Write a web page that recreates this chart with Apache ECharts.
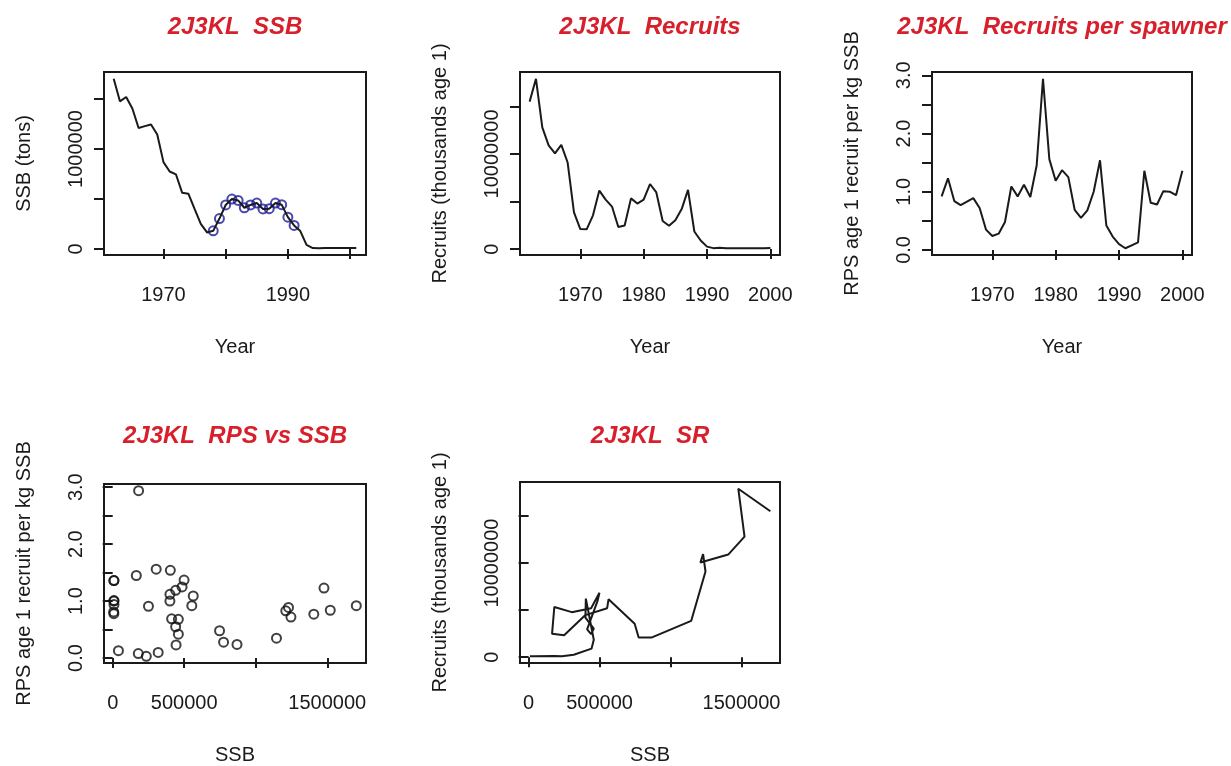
<!DOCTYPE html>
<html><head><meta charset="utf-8">
<script src="https://cdn.jsdelivr.net/npm/echarts@6/dist/echarts.min.js"></script>
<style>html,body{margin:0;padding:0;background:#fff}#c{width:1231px;height:766px}</style>
</head><body><div id="c"></div>
<script>
// ---- data ----
const ssbYears = [1962,1963,1964,1965,1966,1967,1968,1969,1970,1971,1972,1973,1974,1975,1976,1977,1978,1979,1980,1981,1982,1983,1984,1985,1986,1987,1988,1989,1990,1991,1992,1993,1994,1995,1996,1997,1998,1999,2000,2001];
const ssb = [1703000,1477000,1521000,1406000,1210000,1229000,1246000,1145000,869000,775000,747000,563000,553000,400000,250000,165000,181000,304000,440000,499000,485000,412000,440000,459000,400000,403000,459000,443000,318000,235000,179000,40000,9000,7000,8000,9000,8000,9000,8000,9000];
const recYears = [1962,1963,1964,1965,1966,1967,1968,1969,1970,1971,1972,1973,1974,1975,1976,1977,1978,1979,1980,1981,1982,1983,1984,1985,1986,1987,1988,1989,1990,1991,1992,1993,1994,1995,1996,1997,1998,1999,2000];
const recruits = [15500000,17900000,12800000,10900000,10050000,10950000,9100000,3850000,2100000,2080000,3550000,6150000,5200000,4470000,2320000,2480000,5330000,4780000,5200000,6840000,5950000,2950000,2450000,3040000,4200000,6220000,1850000,900000,260000,100000,130000,90000,100000,90000,90000,100000,100000,100000,110000];
const rps = [0.92,1.23,0.84,0.77,0.83,0.89,0.72,0.35,0.24,0.28,0.48,1.09,0.92,1.12,0.91,1.45,2.94,1.56,1.19,1.37,1.25,0.69,0.55,0.68,1.00,1.54,0.42,0.23,0.10,0.03,0.08,0.13,1.36,0.81,0.78,1.01,1.00,0.94,1.36];
const circleYears = [1978,1979,1980,1981,1982,1983,1984,1985,1986,1987,1988,1989,1990,1991];

const titles = ['2J3KL  SSB','2J3KL  Recruits','2J3KL  Recruits per spawner','2J3KL  RPS vs SSB','2J3KL  SR'];
const yearTicks = [1970,1980,1990,2000];
const yearLabelsNarrow = [1970,1990];
const ssbTicks = [0,500000,1000000,1500000];
const ssbYLabels = [0,1000000];
const ssbXLabels = [0,500000,1500000];
const recTicks = [0,5000000,10000000,15000000];
const recLabels = [0,10000000];
const rpsTicks = [0,0.5,1,1.5,2,2.5,3];
const rpsLabels = [0,1,2,3];

// ---- layout / style ----
const FONT = 'Liberation Sans, Arial, sans-serif';
const INK = '#1a1a1a';
const RED = '#d8202c';
const grids = [
  {left:104, top:72, width:262, height:183},
  {left:520, top:72, width:260, height:183},
  {left:932, top:72, width:260, height:183},
  {left:104, top:484, width:262, height:179},
  {left:520, top:482, width:260, height:181}
];
function pad(arr){const lo=Math.min(...arr),hi=Math.max(...arr),d=(hi-lo)*0.04;return [lo-d,hi+d];}
const intFmt = v => String(Math.round(v));
const decFmt = v => v.toFixed(1);
function axis(kind, gi, range, ticks, labels, fmt, name){
  const isX = kind==='x';
  return {
    type:'value', gridIndex:gi, min:range[0], max:range[1],
    axisLine:{show:false}, splitLine:{show:false},
    axisTick:{show:true, inside:false, length:10, lineStyle:{color:INK,width:2}, customValues:ticks},
    axisLabel:{show:true, customValues:labels, formatter:fmt, fontSize:20, color:INK, fontFamily:FONT,
      margin: isX ? 30 : 18, rotate: isX ? 0 : 90},
    name:name, nameLocation:'middle', nameGap: isX ? 82 : 70,
    nameTextStyle:{fontSize:20, color:INK, fontFamily:FONT}
  };
}
const yrRange1 = pad(ssbYears), yrRange2 = pad(recYears);
const ssbRange = pad(ssb), ssbRange39 = pad(ssb.slice(0,recYears.length));
const recRange = pad(recruits), rpsRange = pad(rps);

const xAxis = [
  axis('x',0,yrRange1,yearTicks,yearLabelsNarrow,intFmt,'Year'),
  axis('x',1,yrRange2,yearTicks,yearTicks,intFmt,'Year'),
  axis('x',2,yrRange2,yearTicks,yearTicks,intFmt,'Year'),
  axis('x',3,ssbRange39,ssbTicks,ssbXLabels,intFmt,'SSB'),
  axis('x',4,ssbRange39,ssbTicks,ssbXLabels,intFmt,'SSB')
];
const yAxis = [
  axis('y',0,ssbRange,ssbTicks,ssbYLabels,intFmt,'SSB (tons)'),
  axis('y',1,recRange,recTicks,recLabels,intFmt,'Recruits (thousands age 1)'),
  axis('y',2,rpsRange,rpsTicks,rpsLabels,decFmt,'RPS age 1 recruit per kg SSB'),
  axis('y',3,rpsRange,rpsTicks,rpsLabels,decFmt,'RPS age 1 recruit per kg SSB'),
  axis('y',4,recRange,recTicks,recLabels,intFmt,'Recruits (thousands age 1)')
];
const lineStyle = {color:INK, width:2};
const series = [
  {type:'line', xAxisIndex:0, yAxisIndex:0, data: ssbYears.map((y,i)=>[y,ssb[i]]), showSymbol:false, lineStyle, animation:false},
  {type:'scatter', xAxisIndex:0, yAxisIndex:0, data: circleYears.map(y=>[y, ssb[ssbYears.indexOf(y)]]), symbol:'circle', symbolSize:9,
    itemStyle:{color:'rgba(0,0,0,0)', borderColor:'#1c1c98', borderWidth:2}, animation:false},
  {type:'line', xAxisIndex:1, yAxisIndex:1, data: recYears.map((y,i)=>[y,recruits[i]]), showSymbol:false, lineStyle, animation:false},
  {type:'line', xAxisIndex:2, yAxisIndex:2, data: recYears.map((y,i)=>[y,rps[i]]), showSymbol:false, lineStyle, animation:false},
  {type:'scatter', xAxisIndex:3, yAxisIndex:3, data: rps.map((r,i)=>[ssb[i],r]), symbol:'circle', symbolSize:9,
    itemStyle:{color:'rgba(0,0,0,0)', borderColor:'#111', borderWidth:2}, animation:false},
  {type:'line', xAxisIndex:4, yAxisIndex:4, data: recruits.map((r,i)=>[ssb[i],r]), showSymbol:false, lineStyle, animation:false}
];
const titleTops = [15,15,15,424,424];
const title = titles.map((t,i)=>({
  text:t, left: grids[i].left + grids[i].width/2, top: titleTops[i], textAlign:'center', padding:0,
  textStyle:{fontSize:24, fontWeight:'bold', fontStyle:'italic', color:RED, fontFamily:FONT}
}));
const chart = echarts.init(document.getElementById('c'), null, {renderer:'canvas'});
chart.setOption({
  backgroundColor:'#fff', animation:false,
  title,
  grid: grids.map(g=>Object.assign({show:true, borderColor:INK, borderWidth:2, backgroundColor:'rgba(0,0,0,0)', containLabel:false, outerBoundsMode:'none'}, g)),
  xAxis, yAxis, series
});
</script></body></html>
